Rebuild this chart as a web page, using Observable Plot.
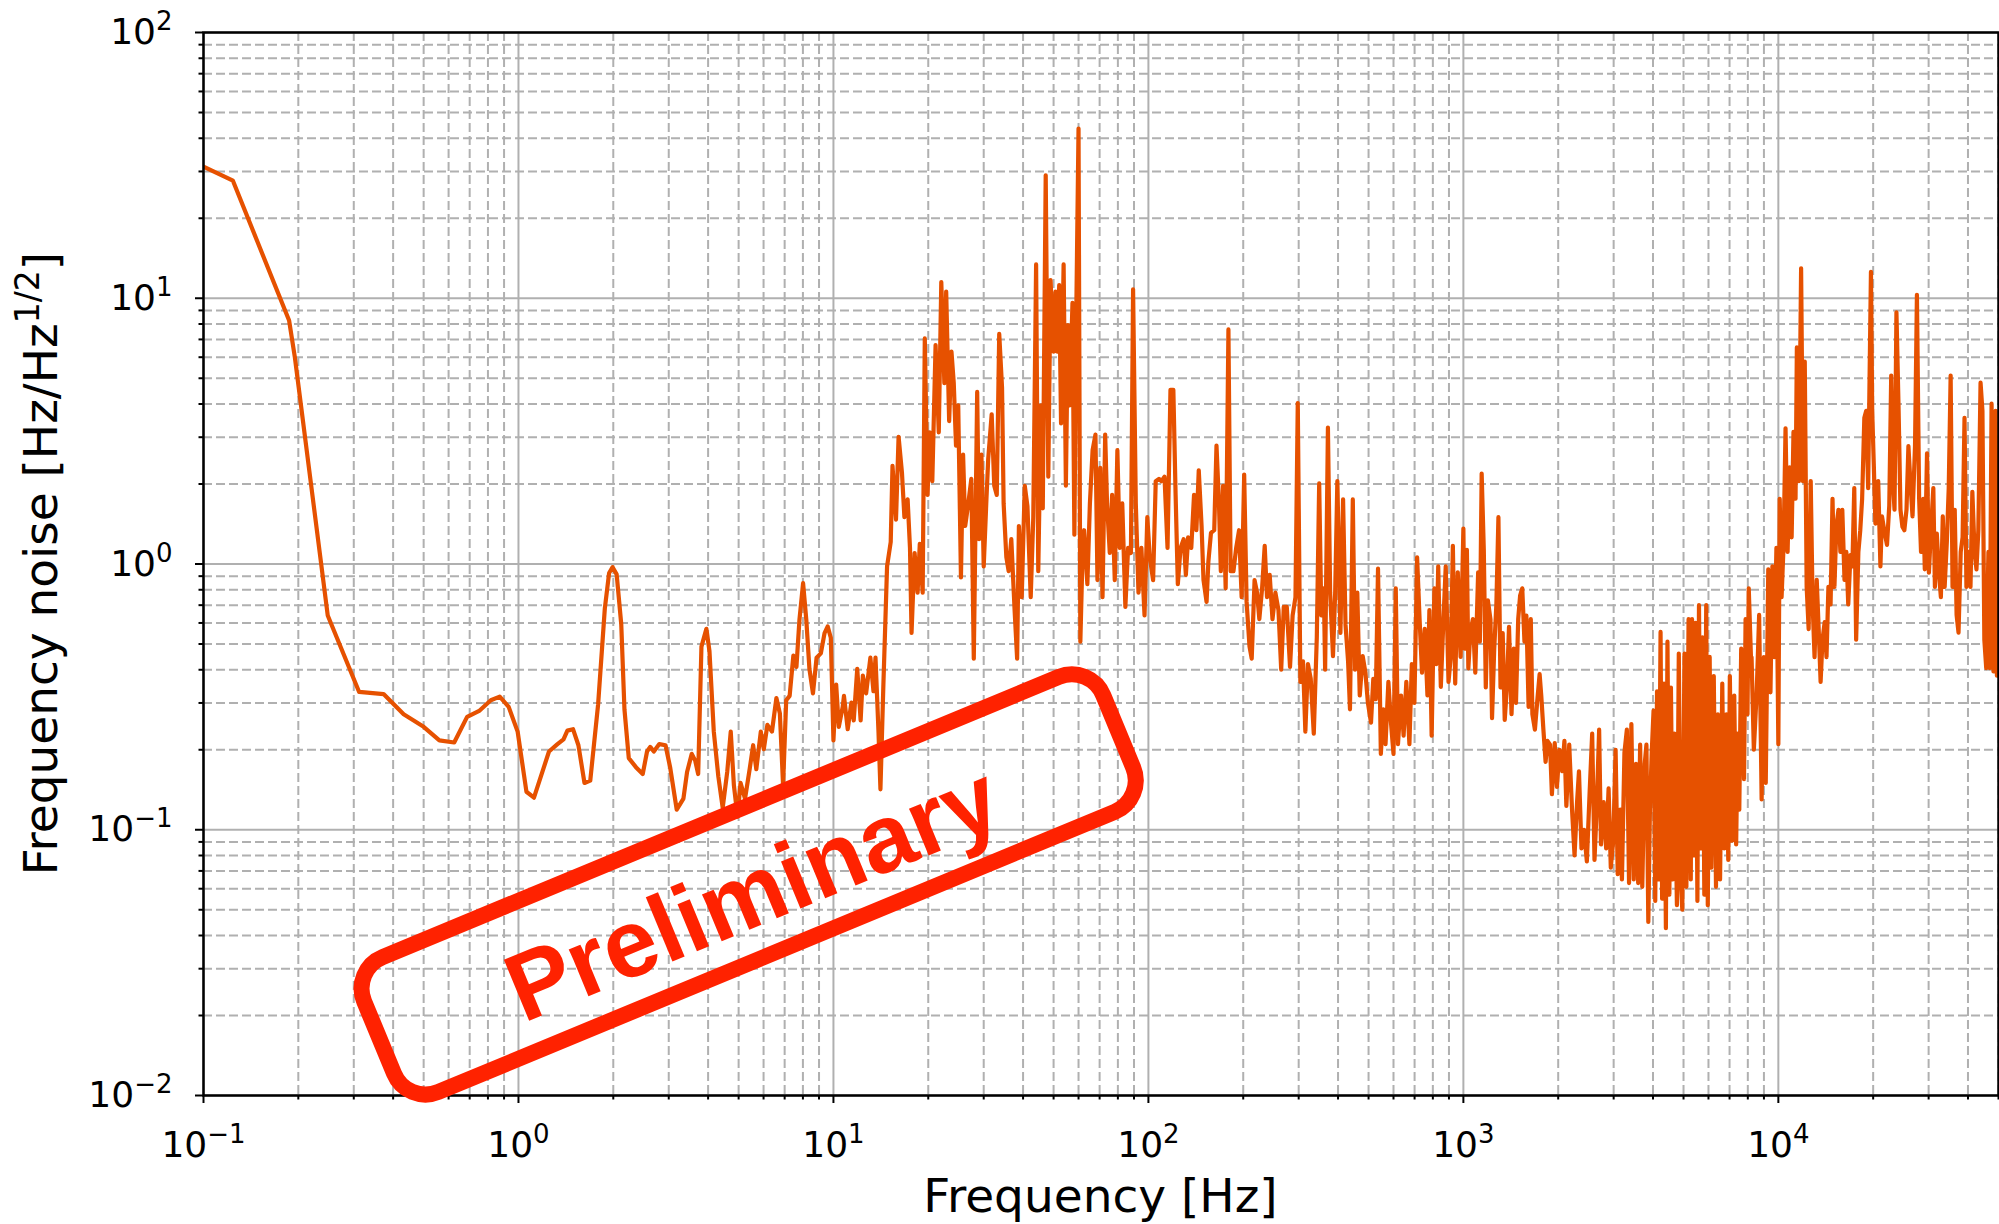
<!DOCTYPE html>
<html>
<head>
<meta charset="utf-8">
<script src="https://cdn.jsdelivr.net/npm/d3@7"></script>
<script src="https://cdn.jsdelivr.net/npm/@observablehq/plot@0.6"></script>
<style>
  html, body { margin: 0; padding: 0; background: #fff; }
  #chart { width: 1999px; height: 1224px; overflow: hidden; }
</style>
</head>
<body>
<div id="chart"></div>
<script>
// ---------- data (Hz, Hz/Hz^1/2) ----------
const freqLow = [0.1, 0.124, 0.187, 0.195, 0.248, 0.312, 0.373, 0.432, 0.5, 0.561, 0.625, 0.687, 0.753, 0.817, 0.872, 0.931, 0.994, 1.06, 1.12, 1.25, 1.33, 1.39, 1.43, 1.49, 1.55, 1.62, 1.69, 1.79, 1.88, 1.94, 1.99, 2.05, 2.12, 2.17, 2.24, 2.36, 2.48, 2.56, 2.62, 2.69, 2.8, 2.93, 3.03, 3.18, 3.34, 3.43, 3.55, 3.64, 3.72, 3.81, 3.95, 4.04, 4.17, 4.31, 4.45, 4.6, 4.72, 4.83, 4.96, 5.07, 5.24, 5.42, 5.56, 5.69, 5.88, 6.01, 6.17, 6.38, 6.59, 6.76, 6.92, 7.08, 7.26, 7.46, 7.63, 7.8, 8.01, 8.2, 8.39, 8.61, 8.84, 9.12, 9.37, 9.59, 9.81, 10.0, 10.2, 10.4, 10.7, 10.8, 11.1, 11.4, 11.6, 11.9, 12.2, 12.4, 12.7, 13.1, 13.4, 13.6, 13.9, 14.1, 14.4];
const noiseLow = [31.3, 27.7, 8.24, 6.0, 0.64, 0.33, 0.324, 0.272, 0.244, 0.217, 0.213, 0.266, 0.281, 0.307, 0.317, 0.29, 0.234, 0.139, 0.132, 0.197, 0.21, 0.219, 0.236, 0.239, 0.208, 0.15, 0.153, 0.296, 0.68, 0.925, 0.973, 0.914, 0.593, 0.284, 0.186, 0.172, 0.162, 0.197, 0.205, 0.197, 0.21, 0.208, 0.172, 0.119, 0.131, 0.165, 0.193, 0.182, 0.162, 0.489, 0.57, 0.47, 0.234, 0.159, 0.121, 0.165, 0.234, 0.147, 0.112, 0.15, 0.131, 0.169, 0.208, 0.169, 0.234, 0.201, 0.248, 0.234, 0.313, 0.274, 0.147, 0.307, 0.319, 0.452, 0.41, 0.617, 0.847, 0.617, 0.403, 0.326, 0.444, 0.461, 0.549, 0.582, 0.528, 0.217, 0.352, 0.244, 0.29, 0.319, 0.239, 0.301, 0.258, 0.403, 0.258, 0.38, 0.326, 0.444, 0.332, 0.444, 0.234, 0.142, 0.345];

const freqMid = [14.8, 15.2, 15.4, 15.8, 16.1, 16.5, 16.8, 17.2, 17.5, 17.7, 18.1, 18.5, 18.8, 19.2, 19.5, 19.9, 20.2, 20.6, 21.1, 21.6, 22.0, 22.5, 22.8, 23.3, 23.7, 24.1, 24.5, 24.9, 25.4, 25.8, 26.2, 26.8, 27.4, 27.9, 28.6, 29.0, 29.5, 30.0, 30.6, 31.0, 31.8, 32.4, 33.0, 33.6, 34.3, 34.7, 35.4, 36.0, 36.7, 37.6, 38.3, 38.8, 39.6, 40.5, 41.3, 42.3, 43.1, 44.0, 44.7, 45.6, 46.2, 47.2, 48.1, 48.9, 50.0, 50.7, 51.4, 52.1, 52.8, 53.8, 54.7, 55.5, 56.2, 57.4, 58.2, 59.1, 60.0, 60.8, 61.7, 62.5, 64.0, 65.2, 66.5, 67.9, 68.9, 70.3, 71.5, 72.9, 73.9, 75.4, 76.7, 78.2, 79.7, 81.1, 82.6, 84.5, 86.2, 88.0, 89.4, 91.2, 93.0, 95.0, 97.2, 99.2, 101, 103.5, 105.5, 108, 110, 112.5, 115, 117.5, 120, 122, 124, 126.5, 129.4, 131.5, 133.7, 136.8, 139.6, 142, 144.5, 147.5, 149.6, 153, 155, 158, 161.8, 164.5, 167.5, 169.8, 172.6, 175.9, 179.5, 182.4, 186.2, 190, 194, 197.7, 201.4, 205, 209.4, 212.8, 217.3, 221.3, 225, 229.6, 234, 238, 242.7, 247.7, 253, 258.8, 264, 269, 275, 281.6, 287, 293, 298, 303.7, 309.6, 315, 321, 327.6, 335, 342.5, 348.5, 354, 360.5, 364, 371.5, 377.6, 385.5, 391.7, 398, 407, 415, 422.5, 430.5, 436.5, 445.6, 453, 460.5, 468.8, 479, 488.6, 497.7, 509, 517.6, 527, 535.8, 547, 557, 566, 578, 589, 600, 610, 620, 634, 646, 659, 674, 686, 699, 713, 726, 739, 754, 769, 780, 793, 809, 820, 832, 848, 862, 879, 897];
const noiseMid = [0.98, 1.21, 2.34, 1.47, 3.01, 2.21, 1.5, 1.75, 1.15, 0.55, 1.1, 0.78, 1.19, 0.78, 7.06, 1.82, 3.13, 2.05, 6.66, 3.13, 11.5, 4.79, 10.6, 3.45, 6.3, 4.79, 2.79, 3.95, 0.89, 2.58, 1.39, 1.69, 2.09, 0.44, 4.44, 1.24, 2.58, 0.98, 1.75, 2.48, 3.66, 1.97, 1.82, 7.34, 4.61, 1.69, 1.06, 0.94, 1.24, 0.67, 0.44, 1.39, 0.75, 1.97, 1.65, 0.75, 1.5, 13.4, 0.94, 3.95, 1.62, 29.0, 2.13, 11.7, 6.3, 10.6, 6.3, 11.2, 3.38, 13.4, 1.97, 7.93, 3.95, 9.6, 1.29, 10.0, 43.5, 0.51, 1.02, 1.34, 0.84, 1.69, 2.68, 3.07, 0.87, 2.3, 0.75, 3.07, 1.69, 1.1, 1.82, 0.87, 2.68, 1.15, 1.69, 0.69, 1.15, 1.1, 10.8, 1.69, 0.78, 1.15, 0.64, 1.5, 1.06, 0.87, 2.05, 2.09, 2.05, 2.13, 1.15, 4.52, 4.52, 1.82, 0.84, 1.15, 1.24, 0.91, 1.26, 1.15, 1.82, 1.34, 2.25, 1.39, 0.87, 0.72, 1.02, 1.31, 1.34, 2.79, 1.69, 0.94, 1.97, 0.81, 7.63, 0.94, 0.94, 1.15, 1.34, 0.75, 2.17, 0.72, 0.49, 0.44, 0.87, 0.78, 0.62, 0.81, 1.17, 0.75, 0.91, 0.62, 0.78, 0.67, 0.40, 0.69, 0.69, 0.41, 0.64, 0.75, 4.03, 0.36, 0.43, 0.234, 0.42, 0.37, 0.23, 0.53, 2.01, 0.64, 0.81, 0.40, 3.26, 0.78, 0.45, 0.78, 2.05, 0.55, 1.75, 0.59, 0.43, 0.284, 1.75, 0.40, 0.78, 0.32, 0.45, 0.39, 0.30, 0.253, 0.37, 0.31, 0.96, 0.193, 0.284, 0.21, 0.36, 0.253, 0.193, 0.81, 0.21, 0.32, 0.226, 0.36, 0.21, 0.42, 0.30, 1.06, 0.62, 0.39, 0.57, 0.32, 0.67, 0.226, 0.81, 0.42, 0.98, 0.345, 0.57, 0.98, 0.36];

const freqHigh = [912, 926, 942, 960, 980, 1000, 1010, 1026, 1037, 1052, 1072, 1091, 1114, 1128, 1143, 1161, 1178, 1196, 1219, 1233, 1253, 1273, 1292, 1312, 1333, 1353, 1374, 1396, 1422, 1446, 1469, 1493, 1514, 1538, 1563, 1585, 1611, 1637, 1656, 1687, 1714, 1746, 1767, 1795, 1824, 1849, 1884, 1910, 1950, 1982, 2018, 2060, 2093, 2123, 2168, 2213, 2254, 2296, 2328, 2371, 2415, 2466, 2518, 2564, 2608, 2649, 2698, 2735, 2789, 2840, 2891, 2938, 2992, 3043, 3090, 3148, 3187, 3246, 3304, 3357, 3415, 3475, 3532, 3589, 3641, 3698, 3765, 3812, 3865, 3911, 3963, 4016, 4066, 4120, 4169, 4227, 4276, 4335, 4395, 4446, 4508, 4560, 4624, 4677, 4764, 4830, 4898, 4955, 5035, 5105, 5188, 5272, 5321, 5395, 5458, 5534, 5598, 5675, 5741, 5821, 5902, 5970, 6053, 6124, 6237, 6339, 6427, 6531, 6637, 6730, 6839, 6934, 7015, 7129, 7244, 7345, 7430, 7516, 7621, 7780, 7870, 7980, 8054, 8185];
const noiseHigh = [0.447, 1.17, 0.355, 0.93, 0.447, 1.36, 0.48, 1.13, 0.405, 0.55, 0.62, 0.39, 0.93, 0.51, 2.19, 1.13, 0.343, 0.73, 0.62, 0.263, 0.48, 0.71, 1.5, 0.343, 0.55, 0.259, 0.343, 0.58, 0.272, 0.48, 0.3, 0.62, 0.76, 0.81, 0.51, 0.64, 0.29, 0.62, 0.272, 0.238, 0.3, 0.385, 0.32, 0.238, 0.18, 0.216, 0.209, 0.136, 0.212, 0.145, 0.2, 0.166, 0.216, 0.123, 0.209, 0.119, 0.08, 0.127, 0.166, 0.085, 0.1, 0.076, 0.14, 0.23, 0.077, 0.119, 0.238, 0.088, 0.127, 0.085, 0.143, 0.072, 0.091, 0.2, 0.068, 0.119, 0.065, 0.195, 0.238, 0.063, 0.25, 0.065, 0.177, 0.063, 0.209, 0.061, 0.177, 0.209, 0.045, 0.119, 0.195, 0.281, 0.054, 0.332, 0.065, 0.555, 0.055, 0.355, 0.0426, 0.51, 0.057, 0.343, 0.065, 0.23, 0.052, 0.46, 0.065, 0.05, 0.46, 0.061, 0.62, 0.065, 0.62, 0.08, 0.60, 0.054, 0.70, 0.085, 0.53, 0.057, 0.70, 0.052, 0.447, 0.072, 0.379, 0.061, 0.272, 0.065, 0.355, 0.085, 0.272, 0.077, 0.379, 0.091, 0.32, 0.088, 0.23, 0.119, 0.48, 0.155, 0.62, 0.272, 0.81, 0.447];

const freqTop = [8222, 8360, 8536, 8690, 8850, 8995, 9120, 9290, 9440, 9575, 9710, 9860, 10000, 10100, 10240, 10390, 10540, 10700, 10860, 11020, 11170, 11340, 11450, 11620, 11730, 11810, 11970, 12130, 12300, 12480, 12670, 12850, 13030, 13240, 13430, 13620, 13810, 14030, 14220, 14420, 14650, 14860, 15070, 15280, 15520, 15740, 15960, 16220, 16440, 16670, 16940, 17180, 17420, 17660, 17950, 18200, 18450, 18750, 19010, 19280, 19680, 19860, 20090, 20330, 20750, 21090, 21330, 21780, 22130, 22500, 22820, 23110, 23380, 23710, 24080, 24420, 24770, 25120, 25520, 25880, 26240, 26670, 27160, 27540, 27990, 28380, 28840, 29170, 29650, 30060, 30480, 31050, 31410, 31850, 32290, 32810, 33270, 33730, 34280, 34750, 35240, 35730, 36310, 36810, 37330, 37930, 38460, 39000, 39550, 40180, 40740, 41300, 41980, 42560, 43150, 43850, 44460, 45080, 45710, 46450, 46880, 47530, 48200, 48970, 49430];
const noiseTop = [0.446, 0.2, 0.329, 0.643, 0.13, 0.446, 0.15, 0.955, 0.329, 0.98, 0.446, 1.15, 0.21, 1.76, 0.75, 1.18, 3.24, 1.11, 2.31, 1.26, 3.14, 1.76, 6.53, 2.05, 5.78, 12.97, 2.05, 5.78, 0.82, 0.569, 2.05, 0.705, 0.446, 0.871, 0.569, 0.36, 0.519, 0.604, 0.446, 0.82, 0.705, 1.76, 0.82, 1.38, 1.6, 1.11, 1.6, 0.871, 1.11, 0.705, 1.08, 0.98, 1.93, 0.519, 1.11, 1.34, 1.76, 3.55, 3.77, 1.93, 12.57, 3.77, 2.38, 1.42, 2.05, 0.98, 1.51, 1.3, 1.18, 1.66, 5.12, 2.05, 1.6, 8.85, 3.88, 1.6, 1.38, 1.34, 1.6, 2.78, 2.05, 1.51, 2.78, 10.3, 1.76, 1.11, 1.76, 0.955, 2.61, 0.927, 1.3, 1.93, 0.82, 1.3, 0.955, 0.75, 1.51, 0.82, 1.22, 1.93, 5.12, 0.82, 1.6, 0.643, 0.552, 1.11, 1.26, 3.55, 0.82, 1.11, 0.82, 1.87, 1.11, 0.955, 1.34, 4.81, 3.77, 0.519, 0.406, 1.11, 0.406, 4.01, 0.394, 3.77, 0.38];

// ---------- axes / text ----------
const xDomain = [0.1, 5e4];
const yDomain = [0.01, 100];
const xMajorTicks = [0.1, 1, 10, 100, 1000, 10000];
const yMajorTicks = [0.01, 0.1, 1, 10, 100];
const xLabel = "Frequency [Hz]";
const yLabelParts = ["Frequency noise [Hz/Hz", "1/2", "]"];
const stampText = "Preliminary";
const stampAt = {f: 5.4, v: 0.062};

function minorTicks(kFrom, kTo, max) {
  const out = [];
  for (let k = kFrom; k <= kTo; k++)
    for (let m = 2; m <= 9; m++) {
      const v = +(m * Math.pow(10, k)).toPrecision(3);
      if (v <= max) out.push(v);
    }
  return out;
}
const xMinorTicks = minorTicks(-1, 4, xDomain[1]);
const yMinorTicks = minorTicks(-2, 1, yDomain[1]);

const freq = [...freqLow, ...freqMid, ...freqHigh, ...freqTop];
const noise = [...noiseLow, ...noiseMid, ...noiseHigh, ...noiseTop];
const data = freq.map((f, i) => ({f, v: noise[i]}));

const supFmt = d => "10^" + Math.round(Math.log10(d));
const gridColor = "#b0b0b0";
const lineColor = "#e65100";
const stampColor = "#ff2200";

const plot = Plot.plot({
  width: 1999,
  height: 1224,
  marginLeft: 203,
  marginRight: 1,
  marginTop: 32,
  marginBottom: 129,
  style: {fontFamily: "'DejaVu Sans', sans-serif", fontSize: "35px", background: "#fff", color: "#000"},
  x: {type: "log", domain: xDomain},
  y: {type: "log", domain: yDomain},
  marks: [
    Plot.ruleX(xMinorTicks, {stroke: gridColor, strokeWidth: 2, strokeDasharray: "9,4"}),
    Plot.ruleY(yMinorTicks, {stroke: gridColor, strokeWidth: 2, strokeDasharray: "9,4"}),
    Plot.ruleX(xMajorTicks, {stroke: gridColor, strokeWidth: 2}),
    Plot.ruleY(yMajorTicks, {stroke: gridColor, strokeWidth: 2}),
    Plot.line(data, {x: "f", y: "v", stroke: lineColor, strokeWidth: 4.2, clip: true, strokeLinejoin: "round"}),
    Plot.frame({stroke: "#000", strokeWidth: 2.5}),
    Plot.axisX(xMinorTicks, {tickSize: 4.5, strokeWidth: 2, tickFormat: () => "", label: null}),
    Plot.axisX(xMajorTicks, {tickSize: 8, strokeWidth: 2, tickPadding: 28, tickFormat: supFmt, label: null, fontSize: 36}),
    Plot.axisY(yMinorTicks, {tickSize: 4.5, strokeWidth: 2, tickFormat: () => "", label: null}),
    Plot.axisY(yMajorTicks, {tickSize: 8, strokeWidth: 2, tickPadding: 23, tickFormat: supFmt, label: null, fontSize: 36})
  ]
});

document.getElementById("chart").appendChild(plot);

const svg = d3.select(plot);
// superscript exponents in tick labels
svg.selectAll("text").each(function () {
  const m = /^10\^(-?\d+)$/.exec(this.textContent);
  if (!m) return;
  const t = d3.select(this);
  t.text(null);
  t.append("tspan").text("10");
  t.append("tspan").attr("dy", -14).attr("font-size", 26).text(m[1].replace("-", "\u2212"));
});

const xs = plot.scale("x"), ys = plot.scale("y");
const [xr0, xr1] = xs.range;
const [yr0, yr1] = ys.range;

const labels = svg.append("g")
  .attr("font-family", "'DejaVu Sans', sans-serif")
  .attr("font-size", 47)
  .attr("fill", "#000");
labels.append("text")
  .attr("x", (xr0 + xr1) / 2)
  .attr("y", yr0 + 117)
  .attr("text-anchor", "middle")
  .text(xLabel);
const yl = labels.append("text")
  .attr("transform", `translate(${xr0 - 146},${(yr0 + yr1) / 2}) rotate(-90)`)
  .attr("text-anchor", "middle");
yl.append("tspan").text(yLabelParts[0]);
yl.append("tspan").attr("dy", -18).attr("font-size", 33).text(yLabelParts[1]);
yl.append("tspan").attr("dy", 18).text(yLabelParts[2]);

// "Preliminary" stamp
const stamp = svg.append("g")
  .attr("transform", `translate(${xs.apply(stampAt.f)},${ys.apply(stampAt.v)}) rotate(-22.5)`);
stamp.append("rect")
  .attr("x", -400).attr("y", -73)
  .attr("width", 800).attr("height", 146)
  .attr("rx", 34).attr("ry", 34)
  .attr("fill", "none")
  .attr("stroke", stampColor)
  .attr("stroke-width", 16);
stamp.append("text")
  .attr("x", 0).attr("y", 42)
  .attr("text-anchor", "middle")
  .attr("font-family", "'Liberation Sans', Arial, sans-serif")
  .attr("font-weight", "bold")
  .attr("font-size", 96)
  .attr("fill", stampColor)
  .text(stampText);
</script>
</body>
</html>
